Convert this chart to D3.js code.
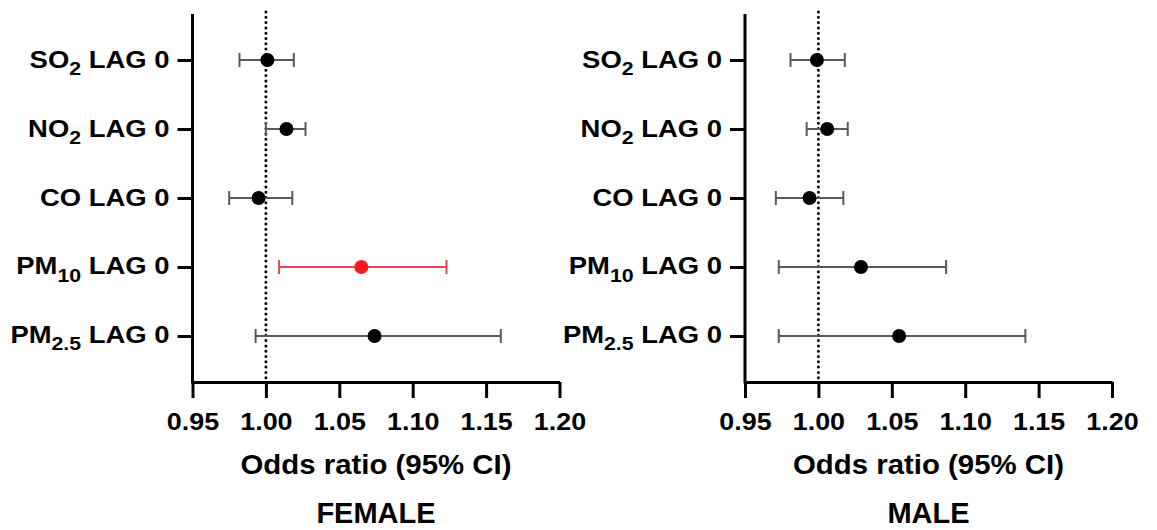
<!DOCTYPE html>
<html>
<head>
<meta charset="utf-8">
<script src="https://cdn.jsdelivr.net/npm/d3@7"></script>
<style>
  body { margin: 0; background: #fff; }
  svg { display: block; font-family: "Liberation Sans", Arial, sans-serif; font-weight: bold; }
</style>
</head>
<body>
<svg id="chart"></svg>
<script>
// rows: pollutant name + subscript
var pollutants = ["SO", "NO", "CO", "PM", "PM"];
var subs = ["2", "2", "", "10", "2.5"];
var rowKeys = ["SO2", "NO2", "CO", "PM10", "PM2.5"];
var xTicks = [0.95, 1.00, 1.05, 1.10, 1.15, 1.20];

var femaleOR = [1.001, 1.014, 0.995, 1.065, 1.074];
var femaleLow = [0.982, 1.000, 0.975, 1.009, 0.993];
var femaleHigh = [1.019, 1.027, 1.018, 1.123, 1.160];
var femaleSig = [false, false, false, true, false];

var maleOR = [0.999, 1.006, 0.994, 1.029, 1.055];
var maleLow = [0.981, 0.992, 0.971, 0.973, 0.973];
var maleHigh = [1.018, 1.020, 1.017, 1.087, 1.141];
var maleSig = [false, false, false, false, false];

var svgWidth = 1157, svgHeight = 530;
var svg = d3.select("#chart").attr("width", svgWidth).attr("height", svgHeight);

var plotTop = 14, plotBottom = 382, plotW = 367;
var stretch = 1.12;

var y = d3.scalePoint().domain(rowKeys).range([plotTop, plotBottom]).padding(0.667);

function panel(x0, title, or, lo, hi, sig) {
  var g = svg.append("g").attr("transform", "translate(" + x0 + ",0)");
  var x = d3.scaleLinear().domain([0.95, 1.20]).range([0, plotW]);

  // reference line at OR = 1
  g.append("line")
    .attr("x1", x(1)).attr("x2", x(1))
    .attr("y1", 12).attr("y2", plotBottom - 3)
    .attr("stroke", "#000").attr("stroke-width", 3)
    .attr("stroke-linecap", "round")
    .attr("stroke-dasharray", "0,5.3");

  // x axis
  var xa = g.append("g")
    .attr("transform", "translate(0," + plotBottom + ")")
    .call(d3.axisBottom(x).tickValues(xTicks).tickFormat(d3.format(".2f"))
      .tickSize(16).tickSizeOuter(0).tickPadding(8));
  xa.selectAll("path, line").attr("stroke", "#000").attr("stroke-width", 3);
  xa.selectAll("text")
    .attr("fill", "#000")
    .style("font-size", "24px")
    .attr("dy", null).attr("y", 0)
    .attr("transform", "translate(0,48) scale(" + stretch + ",1)");

  // y axis
  var ya = g.append("g")
    .call(d3.axisLeft(y).tickSize(15).tickSizeOuter(0).tickFormat(""));
  ya.select("path").attr("d", "M0," + plotTop + "V" + (plotBottom + 1.5));
  ya.selectAll("path, line").attr("stroke", "#000").attr("stroke-width", 3);
  ya.selectAll(".tick").each(function(d, i) {
    var t = d3.select(this).select("text")
      .attr("x", 0).attr("dy", null).attr("y", 7)
      .attr("fill", "#000")
      .style("font-size", "24.5px")
      .attr("text-anchor", "end")
      .attr("transform", "translate(-23,0) scale(" + stretch + ",1)");
    t.text(null);
    t.append("tspan").text(pollutants[i]);
    if (subs[i]) {
      t.append("tspan").text(subs[i]).style("font-size", "19px").attr("dy", 7);
      t.append("tspan").text(" LAG 0").attr("dy", -7);
    } else {
      t.append("tspan").text(" LAG 0");
    }
  });

  // error bars
  var rows = rowKeys.map(function(k, i) {
    return { key: k, or: or[i], lo: lo[i], hi: hi[i], sig: sig[i] };
  });
  var eb = g.selectAll(".eb").data(rows).enter().append("g").attr("class", "eb");
  eb.append("line")
    .attr("x1", function(d) { return x(d.lo); })
    .attr("x2", function(d) { return x(d.hi); })
    .attr("y1", function(d) { return y(d.key); })
    .attr("y2", function(d) { return y(d.key); });
  eb.append("line")
    .attr("x1", function(d) { return x(d.lo); })
    .attr("x2", function(d) { return x(d.lo); })
    .attr("y1", function(d) { return y(d.key) - 7; })
    .attr("y2", function(d) { return y(d.key) + 7; });
  eb.append("line")
    .attr("x1", function(d) { return x(d.hi); })
    .attr("x2", function(d) { return x(d.hi); })
    .attr("y1", function(d) { return y(d.key) - 7; })
    .attr("y2", function(d) { return y(d.key) + 7; });
  eb.selectAll("line")
    .attr("stroke", function(d) { return d.sig ? "#e5474f" : "#5a5a5a"; })
    .attr("stroke-width", 2);

  g.selectAll(".pt").data(rows).enter().append("circle")
    .attr("class", "pt")
    .attr("cx", function(d) { return x(d.or); })
    .attr("cy", function(d) { return y(d.key); })
    .attr("r", 7)
    .attr("fill", function(d) { return d.sig ? "#ff1a1a" : "#000"; });

  // titles
  g.append("text").text("Odds ratio (95% CI)")
    .attr("text-anchor", "middle")
    .attr("transform", "translate(" + (plotW / 2) + ",474) scale(1.05,1)")
    .style("font-size", "28px");
  g.append("text").text(title)
    .attr("text-anchor", "middle")
    .attr("transform", "translate(" + (plotW / 2) + ",523)")
    .style("font-size", "29px");
}

panel(192.5, "FEMALE", femaleOR, femaleLow, femaleHigh, femaleSig);
panel(745, "MALE", maleOR, maleLow, maleHigh, maleSig);
</script>
</body>
</html>
